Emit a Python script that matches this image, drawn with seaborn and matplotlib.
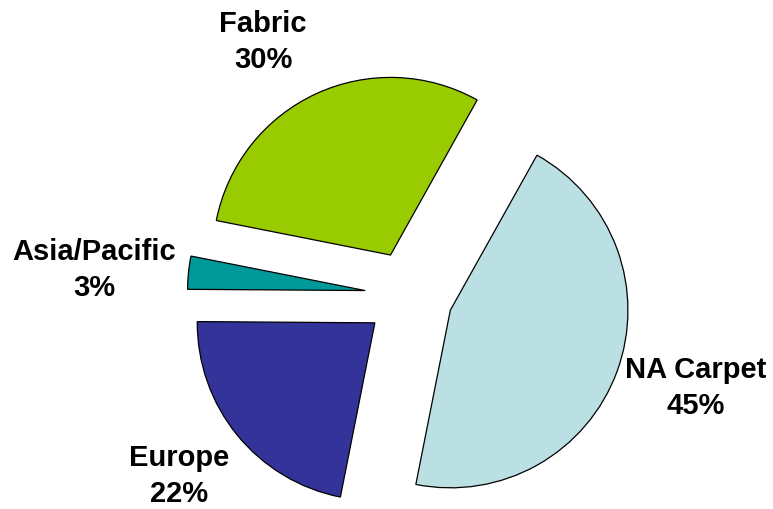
import matplotlib
matplotlib.use("Agg")
import matplotlib.pyplot as plt
import seaborn as sns

# Revenue share by business segment
segments = ["NA Carpet", "Europe", "Asia/Pacific", "Fabric"]
shares = [45, 22, 3, 30]
colors = ["#BBE0E3", "#333399", "#009999", "#99CC00"]

sns.set_theme(style="white")
plt.rcParams["font.family"] = ["Liberation Sans", "DejaVu Sans"]

W, H = 773, 509
fig = plt.figure(figsize=(W / 100, H / 100), dpi=100)
ax = fig.add_axes([0, 0, 1, 1])

# Pie geometry in pixel-like data units; explode is an absolute offset
cx, cy = 409, H - 295
radius = 177.6
explode = [0.248 * radius] * len(shares)

ax.pie(
    shares,
    colors=colors,
    explode=explode,
    startangle=60.8,
    counterclock=False,
    center=(cx, cy),
    radius=radius,
    wedgeprops=dict(edgecolor="black", linewidth=0.9),
)

# Segment labels with their percentages
label_pos = {
    "Fabric": (263, 42),
    "Asia/Pacific": (94, 270),
    "Europe": (179, 476),
    "NA Carpet": (696, 388),
}
for name, val in zip(segments, shares):
    x, y = label_pos[name]
    ax.text(x, H - y, f"{name}\n{val}%", ha="center", va="center",
            fontsize=21, fontweight="bold", linespacing=1.35, color="black")

ax.set_xlim(0, W)
ax.set_ylim(0, H)
ax.set_aspect("equal")
ax.axis("off")

fig.savefig("out.png", dpi=100, facecolor="white")
